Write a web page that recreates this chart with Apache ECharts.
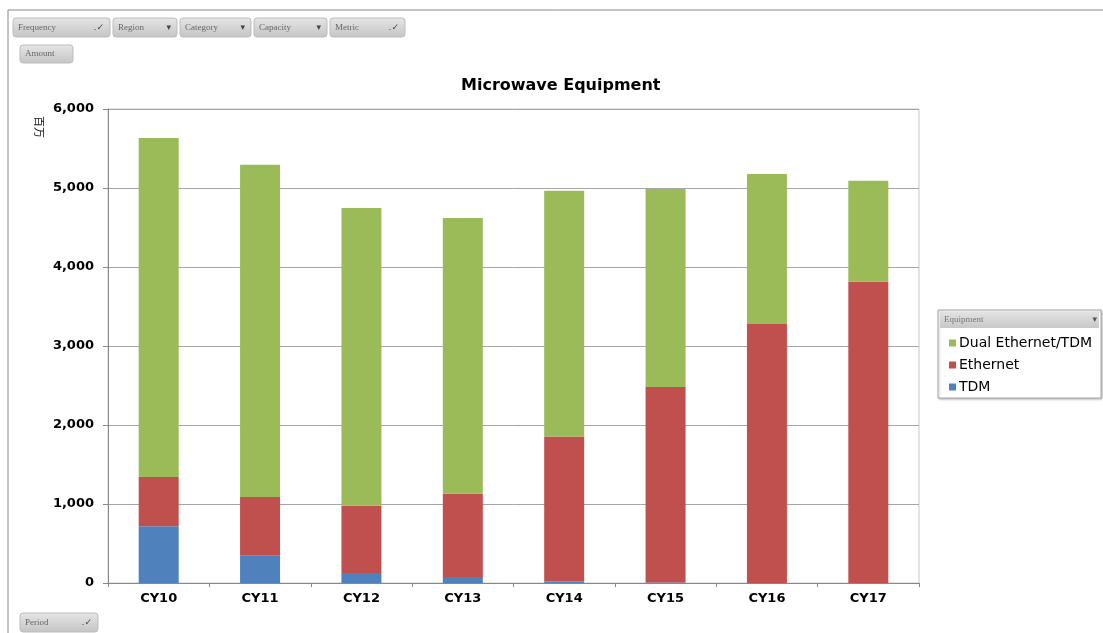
<!DOCTYPE html>
<html><head><meta charset="utf-8">
<script src="https://cdn.jsdelivr.net/npm/echarts@6/dist/echarts.min.js"></script>
<style>html,body{margin:0;padding:0;background:#fff}#c{width:1103px;height:633px}</style>
</head><body><div id="c"></div>
<script>
var categories = ['CY10','CY11','CY12','CY13','CY14','CY15','CY16','CY17'];
var tdm = [717, 345, 127, 76, 20, 5, 0, 0];
var ethernet = [625, 744, 851, 1054, 1836, 2476, 3278, 3814];
var dual = [4291, 4206, 3769, 3490, 3110, 2506, 1899, 1278];
var seriesNames = ['Dual Ethernet/TDM','Ethernet','TDM'];
var yTicks = {min:0, max:6000, interval:1000};

function button(x, y, w, h, label, icon) {
  var els = [{
    type:'rect', shape:{x:x,y:y,width:w,height:h,r:3},
    style:{fill:{type:'linear',x:0,y:0,x2:0,y2:1,colorStops:[{offset:0,color:'#e6e6e6'},{offset:1,color:'#c4c4c4'}]}, stroke:'#bdbdbd', lineWidth:1}
  },{
    type:'text', x:x+5, y:y+h/2, style:{text:label, font:'9px "Liberation Serif"', fill:'#666', verticalAlign:'middle'}
  }];
  if (icon) els.push({type:'text', x:x+w-6, y:y+h/2, style:{text:icon, font:'9px "DejaVu Sans"', fill:'#444', align:'right', verticalAlign:'middle'}});
  return els;
}
var g = [];
g.push({type:'line', shape:{x1:8,y1:10,x2:1103,y2:10}, style:{stroke:'#888', lineWidth:1}});
g.push({type:'line', shape:{x1:8,y1:10,x2:8,y2:633}, style:{stroke:'#888', lineWidth:1}});
g = g.concat(button(13,18,97,19,'Frequency','.\u2713'));
g = g.concat(button(113,18,64,19,'Region','\u25BE'));
g = g.concat(button(180,18,71,19,'Category','\u25BE'));
g = g.concat(button(254,18,73,19,'Capacity','\u25BE'));
g = g.concat(button(330,18,75,19,'Metric','.\u2713'));
g = g.concat(button(20,45,53,18,'Amount',null));
g = g.concat(button(20,613,78,19,'Period','.\u2713'));
// legend box
g.push({type:'rect', shape:{x:938,y:310,width:163,height:88}, style:{fill:'#fff', stroke:'#aaa', lineWidth:1, shadowBlur:2, shadowColor:'rgba(0,0,0,0.25)', shadowOffsetX:1, shadowOffsetY:1}});
g.push({type:'rect', shape:{x:940,y:312,width:159,height:16}, style:{fill:{type:'linear',x:0,y:0,x2:0,y2:1,colorStops:[{offset:0,color:'#e2e2e2'},{offset:1,color:'#c8c8c8'}]}}});
g.push({type:'text', x:944, y:320, style:{text:'Equipment', font:'9px "Liberation Serif"', fill:'#777', verticalAlign:'middle'}});
g.push({type:'text', x:1097, y:320, style:{text:'\u25BE', font:'9px "DejaVu Sans"', fill:'#555', align:'right', verticalAlign:'middle'}});
// unit label
g.push({type:'text', x:39, y:127, rotation:-Math.PI/2, style:{text:'百万', font:'11px "Noto Sans CJK SC"', fill:'#222', align:'center', verticalAlign:'middle'}});

var chart = echarts.init(document.getElementById('c'));
chart.setOption({
  animation:false,
  backgroundColor:'#fff',
  title:{text:'Microwave Equipment', left:456, top:73,
    textStyle:{fontFamily:'DejaVu Sans', fontSize:16, fontWeight:'bold', color:'#000'}},
  legend:{data:seriesNames, orient:'vertical', left:944, top:331, itemWidth:7, itemHeight:7, itemGap:8,
    icon:'rect', textStyle:{fontFamily:'DejaVu Sans', fontSize:14, color:'#000', padding:[0,0,0,-2]}},
  grid:{left:108, right:184, top:109, bottom:50, show:true, borderColor:'#c8c8c8', borderWidth:1, backgroundColor:'transparent'},
  xAxis:{type:'category', data:categories,
    axisLine:{lineStyle:{color:'#888'}},
    axisTick:{show:true, length:4, lineStyle:{color:'#888'}},
    axisLabel:{fontFamily:'DejaVu Sans', fontSize:13, fontWeight:'bold', color:'#000', margin:9}},
  yAxis:{type:'value', min:yTicks.min, max:yTicks.max, interval:yTicks.interval,
    axisLine:{show:true, lineStyle:{color:'#888'}},
    axisTick:{show:true, length:5, lineStyle:{color:'#888'}},
    splitLine:{lineStyle:{color:'#a6a6a6', width:1}},
    axisLabel:{fontFamily:'DejaVu Sans', fontSize:13, fontWeight:'bold', color:'#000', margin:14,
      formatter:function(v){return v.toLocaleString('en-US');}}},
  series:[
    {name:'TDM', type:'bar', stack:'s', data:tdm, barWidth:40, itemStyle:{color:'#4F81BD'}},
    {name:'Ethernet', type:'bar', stack:'s', data:ethernet, barWidth:40, itemStyle:{color:'#C0504D'}},
    {name:'Dual Ethernet/TDM', type:'bar', stack:'s', data:dual, barWidth:40, itemStyle:{color:'#9BBB59'}}
  ],
  graphic:{elements:g}
});
</script></body></html>
